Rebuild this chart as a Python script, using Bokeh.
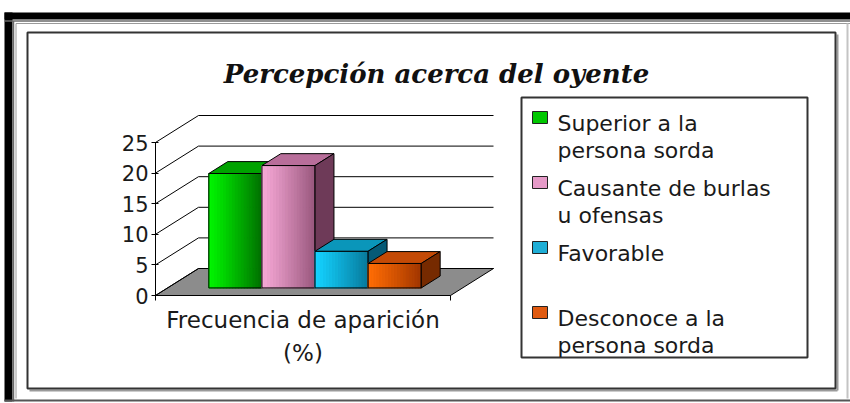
import numpy as np
from bokeh.plotting import figure
from bokeh.models import Range1d, LinearAxis, FixedTicker
from bokeh.core.properties import value
from bokeh.embed import file_html
from bokeh.resources import INLINE

# ---------------- data ----------------
title_text = "Percepción acerca del oyente"
category_label = "Frecuencia de aparición\n(%)"
series_names = [
    "Superior a la\npersona sorda",
    "Causante de burlas\nu ofensas",
    "Favorable",
    "Desconoce a la\npersona sorda",
]
series_values = [18.7, 20, 6, 4]
y_ticks = [0, 5, 10, 15, 20, 25]

# ---------------- styles ----------------
front_light = ["#00f400", "#f6a8d6", "#14d2ff", "#ff6c04"]
front_dark = ["#007400", "#9c5a80", "#087c9e", "#a43800"]
top_colors = ["#00a200", "#b86e9a", "#0a96ba", "#c44a06"]
side_colors = ["#005400", "#6e3a58", "#055a76", "#762a00"]
legend_colors = ["#00c800", "#e69ac8", "#1eaed6", "#e05a10"]

W, H = 850, 403
OX, OY = 0, 0                 # the page template has no body margin
X0, PXU = 155 - OX, 295.0     # front-plane x origin (canvas px) and px per category
Y0, PXV = 295 - OY, 6.12      # front-plane y origin (canvas px) and px per value unit


def px(ix):
    return (ix - OX - X0) / PXU


def py(iy):
    return (Y0 - (iy - OY)) / PXV


DEPTH_U = 43.0 / PXU
DEPTH_V = 27.0 / PXV


def proj(u, v, d):
    return u + d * DEPTH_U, v + d * DEPTH_V


p = figure(width=W, height=H, x_range=Range1d(px(OX), px(OX + W)),
           y_range=Range1d(py(OY + H), py(OY)),
           x_axis_type=None, y_axis_type=None, min_border=0,
           toolbar_location=None, output_backend="svg",
           outline_line_color=None, background_fill_color="white",
           border_fill_color="white")

# ---------------- frame decorations ----------------
p.quad(left=[px(4)], right=[px(12)], bottom=[py(401)], top=[py(12)],
       fill_color="black", line_color=None)
p.quad(left=[px(4)], right=[px(850)], bottom=[py(19)], top=[py(12)],
       fill_color="black", line_color=None)
p.segment(x0=[px(13), px(4)], y0=[py(401), py(20.5)],
          x1=[px(13), px(850)], y1=[py(20.5), py(20.5)],
          line_color="#6a6a6a", line_width=1.5)
p.segment(x0=[px(15.5), px(15.5)], y0=[py(398), py(23)],
          x1=[px(15.5), px(850)], y1=[py(23), py(23)],
          line_color="#9a9a9a", line_width=1)
p.segment(x0=[px(4)], y0=[py(400)], x1=[px(850)], y1=[py(400)],
          line_color="#555555", line_width=2)
p.segment(x0=[px(847)], y0=[py(23)], x1=[px(847)], y1=[py(398)],
          line_color="#c4c4c4", line_width=2)
# inner chart-area box with a slight shadow
p.segment(x0=[px(837), px(29)], y0=[py(34), py(390)],
          x1=[px(837), px(837)], y1=[py(390), py(390)],
          line_color="#9a9a9a", line_width=2)
p.quad(left=[px(27)], right=[px(835)], bottom=[py(388)], top=[py(32)],
       fill_color=None, line_color="#333333", line_width=2)

# ---------------- title ----------------
p.text(x=[px(436)], y=[py(73)], text=[title_text], text_align="center",
       text_baseline="alphabetic", text_font=value("DejaVu Serif"),
       text_font_style="bold italic", text_font_size="26px", text_color="#111111")

# ---------------- 3D floor / walls ----------------
fl = [proj(0, 0, 0), proj(1, 0, 0), proj(1, 0, 1), proj(0, 0, 1)]
p.patch(x=[q[0] for q in fl], y=[q[1] for q in fl], fill_color="#8c8c8c",
        line_color="black", line_width=1)

gx, gy = [], []
for t in y_ticks:
    a, b = proj(0, t, 1), proj(1, t, 1)
    gx.append([a[0], b[0]]); gy.append([a[1], b[1]])
    c = proj(0, t, 0)
    gx.append([c[0], a[0]]); gy.append([c[1], a[1]])
p.multi_line(xs=gx, ys=gy, line_color="black", line_width=1)

# ---------------- bars ----------------
n = len(series_values)
GW = 0.72
bw = GW / n
start = (1 - GW) / 2
D0, D1 = 0.28, 0.72
NSTRIP = 18


def hex2rgb(h):
    h = h.lstrip("#")
    return np.array([int(h[i:i + 2], 16) for i in (0, 2, 4)], dtype=float)


def rgb2hex(c):
    return "#%02x%02x%02x" % tuple(int(round(x)) for x in c)


for i, v in enumerate(series_values):
    u0 = start + i * bw
    u1 = u0 + bw
    fx0, fy0 = proj(u0, 0, D0)
    fx1, fy1 = proj(u1, v, D0)
    edges = np.linspace(fx0, fx1, NSTRIP + 1)
    cl, cd = hex2rgb(front_light[i]), hex2rgb(front_dark[i])
    cols = [rgb2hex(cl + (cd - cl) * (k / (NSTRIP - 1)) ** 1.1) for k in range(NSTRIP)]
    p.quad(left=edges[:-1], right=edges[1:], bottom=[fy0] * NSTRIP,
           top=[fy1] * NSTRIP, fill_color=cols, line_color=cols, line_width=1.2)
    p.quad(left=[fx0], right=[fx1], bottom=[fy0], top=[fy1], fill_color=None,
           line_color="black", line_width=1)
    tp = [proj(u0, v, D0), proj(u1, v, D0), proj(u1, v, D1), proj(u0, v, D1)]
    p.patch(x=[q[0] for q in tp], y=[q[1] for q in tp], fill_color=top_colors[i],
            line_color="black", line_width=1)
    sd = [proj(u1, 0, D0), proj(u1, 0, D1), proj(u1, v, D1), proj(u1, v, D0)]
    p.patch(x=[q[0] for q in sd], y=[q[1] for q in sd], fill_color=side_colors[i],
            line_color="black", line_width=1)

# ---------------- axes ----------------
yaxis = LinearAxis(fixed_location=0, bounds=(0, y_ticks[-1]),
                   ticker=FixedTicker(ticks=y_ticks),
                   major_tick_in=3, major_tick_out=4,
                   minor_tick_in=0, minor_tick_out=0,
                   major_label_standoff=3,
                   major_label_text_font="DejaVu Sans",
                   major_label_text_font_size="21px",
                   major_label_text_color="#1a1a1a",
                   axis_line_color="black", major_tick_line_color="black")
p.add_layout(yaxis, "left")

xaxis = LinearAxis(fixed_location=0, bounds=(0, 1),
                   ticker=FixedTicker(ticks=[0, 1]),
                   major_label_overrides={0: "", 1: ""},
                   major_tick_in=0, major_tick_out=5,
                   minor_tick_in=0, minor_tick_out=0,
                   major_label_standoff=0,
                   major_label_text_font_size="1px",
                   axis_label=category_label,
                   axis_label_standoff=6,
                   axis_label_text_font="DejaVu Sans",
                   axis_label_text_font_style="normal",
                   axis_label_text_font_size="23px",
                   axis_label_text_color="#1a1a1a",
                   axis_label_text_line_height=1.3,
                   axis_line_color="black", major_tick_line_color="black")
p.add_layout(xaxis, "below")

# ---------------- legend ----------------
p.quad(left=[px(521)], right=[px(807)], bottom=[py(357)], top=[py(97)],
       fill_color="white", line_color="#333333", line_width=2)
for i, name in enumerate(series_names):
    base = 123 + 65 * i
    p.quad(left=[px(532)], right=[px(547)], bottom=[py(base)], top=[py(base - 12)],
           fill_color=legend_colors[i], line_color="#222222", line_width=1)
    for j, line in enumerate(name.split("\n")):
        p.text(x=[px(557)], y=[py(base + 27 * j)], text=[line], text_align="left",
               text_baseline="alphabetic", text_font=value("DejaVu Sans"),
               text_font_size="22px", text_color="#1a1a1a")

open("out.html", "w").write(file_html(p, INLINE))
